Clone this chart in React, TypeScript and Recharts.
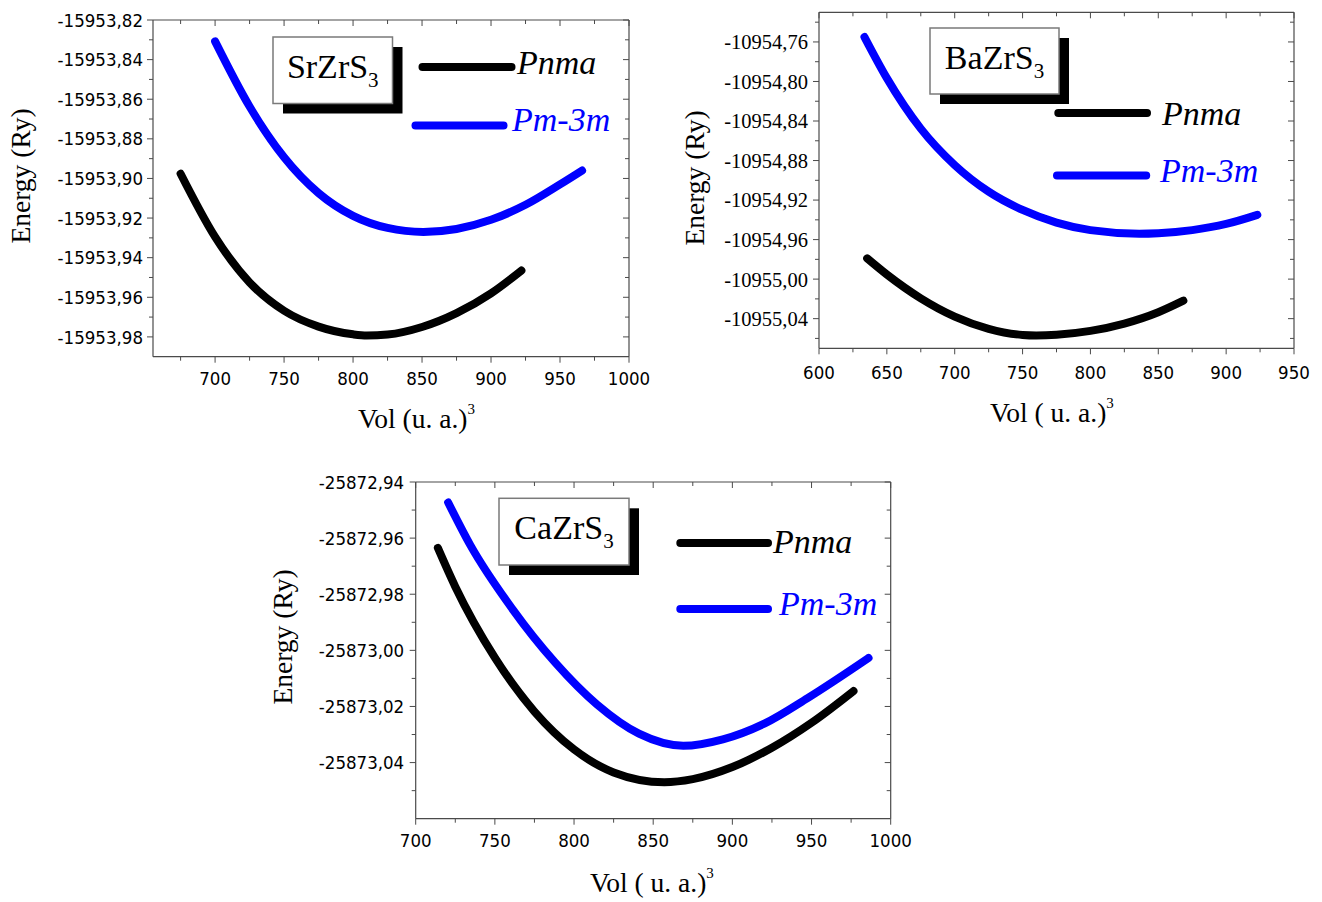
import { LineChart, Line, XAxis, YAxis, ReferenceLine, Legend } from 'recharts';

// SrZrS3 : volumes (u.a.^3) and total energies (Ry)
const srPnmaVol = [675, 700, 725, 750, 775, 800, 810, 825, 850, 875, 900, 922];
const srPnmaE = [-15953.8976, -15953.9295, -15953.9525, -15953.9668, -15953.9748, -15953.9787, -15953.9793, -15953.9788, -15953.975, -15953.968, -15953.958, -15953.9465];
const srCubicVol = [700, 725, 750, 775, 800, 825, 851, 875, 900, 925, 950, 966];
const srCubicE = [-15953.8308, -15953.8637, -15953.8893, -15953.9074, -15953.9189, -15953.925, -15953.927, -15953.9255, -15953.9209, -15953.9133, -15953.903, -15953.896];
const srXMajor = [700, 750, 800, 850, 900, 950, 1000];
const srXMinor = [675, 725, 775, 825, 875, 925, 975];
const srYMajor = [-15953.82, -15953.84, -15953.86, -15953.88, -15953.9, -15953.92, -15953.94, -15953.96, -15953.98];
const srYMinor = [-15953.83, -15953.85, -15953.87, -15953.89, -15953.91, -15953.93, -15953.95, -15953.97];

// BaZrS3
const baPnmaVol = [635.5, 650, 675, 700, 725, 750, 760, 775, 800, 825, 850, 868.5];
const baPnmaE = [-10954.979, -10954.9953, -10955.0194, -10955.0379, -10955.0503, -10955.0565, -10955.057, -10955.0563, -10955.0524, -10955.045, -10955.0335, -10955.0218];
const baCubicVol = [633.5, 650, 675, 700, 725, 750, 775, 800, 836, 850, 875, 900, 923];
const baCubicE = [-10954.755, -10954.7966, -10954.8477, -10954.8846, -10954.9115, -10954.93, -10954.9428, -10954.9504, -10954.954, -10954.9535, -10954.9504, -10954.9442, -10954.935];
const baXMajor = [600, 650, 700, 750, 800, 850, 900, 950];
const baXMinor = [625, 675, 725, 775, 825, 875, 925];
const baYMajor = [-10954.76, -10954.8, -10954.84, -10954.88, -10954.92, -10954.96, -10955.0, -10955.04];
const baYMinor = [-10954.74, -10954.78, -10954.82, -10954.86, -10954.9, -10954.94, -10954.98, -10955.02, -10955.06];

// CaZrS3
const caPnmaVol = [714, 725, 750, 775, 800, 825, 857, 875, 900, 925, 950, 976.5];
const caPnmaE = [-25872.9635, -25872.9773, -25873.0026, -25873.0218, -25873.0353, -25873.0435, -25873.047, -25873.0459, -25873.0416, -25873.0347, -25873.0258, -25873.0145];
const caCubicVol = [720.5, 734.5, 761, 788, 814.5, 841, 869, 894, 920.5, 947.5, 986];
const caCubicE = [-25872.9473, -25872.9625, -25872.9852, -25873.0043, -25873.0193, -25873.0297, -25873.034, -25873.0317, -25873.026, -25873.017, -25873.0027];
const caXMajor = [700, 750, 800, 850, 900, 950, 1000];
const caXMinor = [725, 775, 825, 875, 925, 975];
const caYMajor = [-25872.94, -25872.96, -25872.98, -25873.0, -25873.02, -25873.04];
const caYMinor = [-25872.95, -25872.97, -25872.99, -25873.01, -25873.03, -25873.05];

const AXIS = '#4a4a4a';
const BLUE = '#0000ff';
const TICK_FONT = "'DejaVu Sans Condensed', 'DejaVu Sans', sans-serif";
const SERIF = "'Liberation Serif', 'Times New Roman', serif";

const zip = (vs: number[], es: number[]) => vs.map((v, i) => ({ v, e: es[i] }));
const isMajor = (v: number, majors: number[]) => majors.some((m) => Math.abs(m - v) < 1e-6);
const fmt = (v: number) => v.toFixed(2).replace('.', ',');

type Frame = { left: number; top: number; right: number; bottom: number };
type Entry = { name: string; x1: number; x2: number; y: number; tx: number; ty: number };

interface PanelProps {
  left: number;
  top: number;
  width: number;
  height: number;
  frame: Frame;
  xDomain: [number, number];
  yDomain: [number, number];
  xMajor: number[];
  xMinor: number[];
  yMajor: number[];
  yMinor: number[];
  pnma: { v: number; e: number }[];
  cubic: { v: number; e: number }[];
  compound: string;
  box: { x: number; y: number; w: number; h: number };
  entries: Entry[];
  xTitle: string;
  xTitleX: number;
  xTitleY: number;
  yTitleX: number;
  yTitleY: number;
  xLabelDy: number;
  yLabelGap: number;
  yTickFamily: string;
  yTickSize: number;
}

function Panel(p: PanelProps) {
  const { frame } = p;
  const xAxisH = 40;
  const yAxisW = 100;
  const margin = {
    top: frame.top,
    left: frame.left - yAxisW,
    right: p.width - frame.right,
    bottom: p.height - frame.bottom - xAxisH,
  };

  const XTick = (props: any) => {
    const x = props.payload?.coordinate ?? props.x;
    const major = isMajor(props.payload.value, p.xMajor);
    const len = major ? 6 : 4;
    return (
      <g>
        <line x1={x} x2={x} y1={frame.bottom} y2={frame.bottom + len} stroke={AXIS} />
        <line x1={x} x2={x} y1={frame.top} y2={frame.top + len} stroke={AXIS} />
        {major && (
          <text x={x} y={frame.bottom + p.xLabelDy} textAnchor="middle" fontFamily={TICK_FONT} fontSize={18.5} fill="#000">
            {props.payload.value}
          </text>
        )}
      </g>
    );
  };

  const YTick = (props: any) => {
    const y = props.payload?.coordinate ?? props.y;
    const major = isMajor(props.payload.value, p.yMajor);
    const len = major ? 6 : 4;
    return (
      <g>
        <line x1={frame.left - len} x2={frame.left} y1={y} y2={y} stroke={AXIS} />
        <line x1={frame.right - len} x2={frame.right} y1={y} y2={y} stroke={AXIS} />
        {major && (
          <text x={frame.left - p.yLabelGap} y={y} dy="0.36em" textAnchor="end" fontFamily={p.yTickFamily} fontSize={p.yTickSize} fill="#000">
            {fmt(props.payload.value)}
          </text>
        )}
      </g>
    );
  };

  const xTitle = () => (
    <text x={p.xTitleX} y={p.xTitleY} fontFamily={SERIF} fontSize={27.5} fill="#000">
      {p.xTitle}
      <tspan dy={-14} fontSize={15}>3</tspan>
    </text>
  );

  const yTitle = () => (
    <text
      x={p.yTitleX}
      y={p.yTitleY}
      dy="0.25em"
      textAnchor="middle"
      transform={`rotate(-90, ${p.yTitleX}, ${p.yTitleY})`}
      fontFamily={SERIF}
      fontSize={27.5}
      fill="#000"
    >
      Energy (Ry)
    </text>
  );

  const legendContent = (lp: any) => {
    const items = lp.payload || [];
    const b = p.box;
    return (
      <svg width={p.width} height={p.height} style={{ position: 'absolute', left: 0, top: 0, pointerEvents: 'none' }}>
        <rect x={b.x + 10} y={b.y + 10} width={b.w} height={b.h} fill="#000" />
        <rect x={b.x} y={b.y} width={b.w} height={b.h} fill="#fff" stroke="#7a7a7a" strokeWidth={1.5} />
        <text x={b.x + b.w / 2} y={b.y + 40.5} textAnchor="middle" fontFamily={SERIF} fontSize={34} fill="#000">
          {p.compound}
          <tspan dy={9} fontSize={21}>3</tspan>
        </text>
        {items.map((it: any) => {
          const en = p.entries.find((e) => e.name === it.value);
          if (!en) return null;
          return (
            <g key={it.value}>
              <line x1={en.x1} x2={en.x2} y1={en.y} y2={en.y} stroke={it.color} strokeWidth={8} strokeLinecap="round" />
              <text x={en.tx} y={en.ty} fontFamily={SERIF} fontStyle="italic" fontSize={34} fill={it.color}>
                {it.value}
              </text>
            </g>
          );
        })}
      </svg>
    );
  };

  return (
    <div style={{ position: 'absolute', left: p.left, top: p.top }}>
      <LineChart width={p.width} height={p.height} margin={margin}>
        <XAxis
          dataKey="v"
          type="number"
          domain={p.xDomain}
          allowDataOverflow
          ticks={[...p.xMinor, ...p.xMajor].sort((a, b) => a - b)}
          interval={0}
          tick={XTick}
          tickLine={false}
          axisLine={{ stroke: AXIS, strokeWidth: 1.2 }}
          height={xAxisH}
          label={xTitle}
        />
        <YAxis
          type="number"
          domain={p.yDomain}
          allowDataOverflow
          ticks={[...p.yMinor, ...p.yMajor].sort((a, b) => a - b)}
          interval={0}
          tick={YTick}
          tickLine={false}
          axisLine={{ stroke: AXIS, strokeWidth: 1.2 }}
          width={yAxisW}
          label={yTitle}
        />
        <ReferenceLine y={p.yDomain[1]} stroke={AXIS} strokeWidth={1.2} />
        <ReferenceLine x={p.xDomain[1]} stroke={AXIS} strokeWidth={1.2} />
        <Line
          data={p.pnma}
          dataKey="e"
          name="Pnma"
          type="monotone"
          stroke="#000"
          strokeWidth={8}
          strokeLinecap="round"
          dot={false}
          activeDot={false}
          isAnimationActive={false}
        />
        <Line
          data={p.cubic}
          dataKey="e"
          name="Pm-3m"
          type="monotone"
          stroke={BLUE}
          strokeWidth={8}
          strokeLinecap="round"
          dot={false}
          activeDot={false}
          isAnimationActive={false}
        />
        <Legend
          content={legendContent}
          layout="horizontal"
          verticalAlign="middle"
          align="center"
          wrapperStyle={{ left: 0, top: 0, width: p.width, height: p.height }}
        />
      </LineChart>
    </div>
  );
}

export default function App() {
  return (
    <div style={{ position: 'absolute', left: 0, top: 0, width: 1322, height: 902, background: '#fff', overflow: 'hidden' }}>
      <Panel
        left={0}
        top={0}
        width={660}
        height={440}
        frame={{ left: 153, top: 20, right: 629, bottom: 356.7 }}
        xDomain={[655, 1000]}
        yDomain={[-15953.99, -15953.82]}
        xMajor={srXMajor}
        xMinor={srXMinor}
        yMajor={srYMajor}
        yMinor={srYMinor}
        pnma={zip(srPnmaVol, srPnmaE)}
        cubic={zip(srCubicVol, srCubicE)}
        compound="SrZrS"
        box={{ x: 273, y: 37, w: 119.5, h: 66.5 }}
        entries={[
          { name: 'Pnma', x1: 422.5, x2: 511.5, y: 67, tx: 517, ty: 74 },
          { name: 'Pm-3m', x1: 415.5, x2: 503.5, y: 125.5, tx: 512, ty: 131 },
        ]}
        xTitle="Vol (u. a.)"
        xTitleX={358}
        xTitleY={428}
        yTitleX={23.5}
        yTitleY={176}
        xLabelDy={28}
        yLabelGap={10}
        yTickFamily={TICK_FONT}
        yTickSize={18.5}
      />
      <Panel
        left={660}
        top={0}
        width={662}
        height={440}
        frame={{ left: 159, top: 12.3, right: 634, bottom: 348.3 }}
        xDomain={[600, 950]}
        yDomain={[-10955.07, -10954.73]}
        xMajor={baXMajor}
        xMinor={baXMinor}
        yMajor={baYMajor}
        yMinor={baYMinor}
        pnma={zip(baPnmaVol, baPnmaE)}
        cubic={zip(baCubicVol, baCubicE)}
        compound="BaZrS"
        box={{ x: 270, y: 28, w: 129, h: 66 }}
        entries={[
          { name: 'Pnma', x1: 398.3, x2: 487, y: 113, tx: 502, ty: 125 },
          { name: 'Pm-3m', x1: 397, x2: 486.2, y: 175.5, tx: 500, ty: 181.5 },
        ]}
        xTitle="Vol ( u. a.)"
        xTitleX={330}
        xTitleY={421.5}
        yTitleX={37}
        yTitleY={178}
        xLabelDy={30.8}
        yLabelGap={11}
        yTickFamily={SERIF}
        yTickSize={20.5}
      />
      <Panel
        left={260}
        top={450}
        width={660}
        height={452}
        frame={{ left: 155.7, top: 32, right: 630.7, bottom: 368.7 }}
        xDomain={[700, 1000]}
        yDomain={[-25873.06, -25872.94]}
        xMajor={caXMajor}
        xMinor={caXMinor}
        yMajor={caYMajor}
        yMinor={caYMinor}
        pnma={zip(caPnmaVol, caPnmaE)}
        cubic={zip(caCubicVol, caCubicE)}
        compound="CaZrS"
        box={{ x: 239, y: 48.3, w: 130, h: 66.7 }}
        entries={[
          { name: 'Pnma', x1: 420.3, x2: 508, y: 93, tx: 513, ty: 103 },
          { name: 'Pm-3m', x1: 420.3, x2: 508, y: 159, tx: 519, ty: 164.5 },
        ]}
        xTitle="Vol ( u. a.)"
        xTitleX={330}
        xTitleY={441.7}
        yTitleX={25}
        yTitleY={187}
        xLabelDy={28.7}
        yLabelGap={11.5}
        yTickFamily={TICK_FONT}
        yTickSize={18.5}
      />
    </div>
  );
}
